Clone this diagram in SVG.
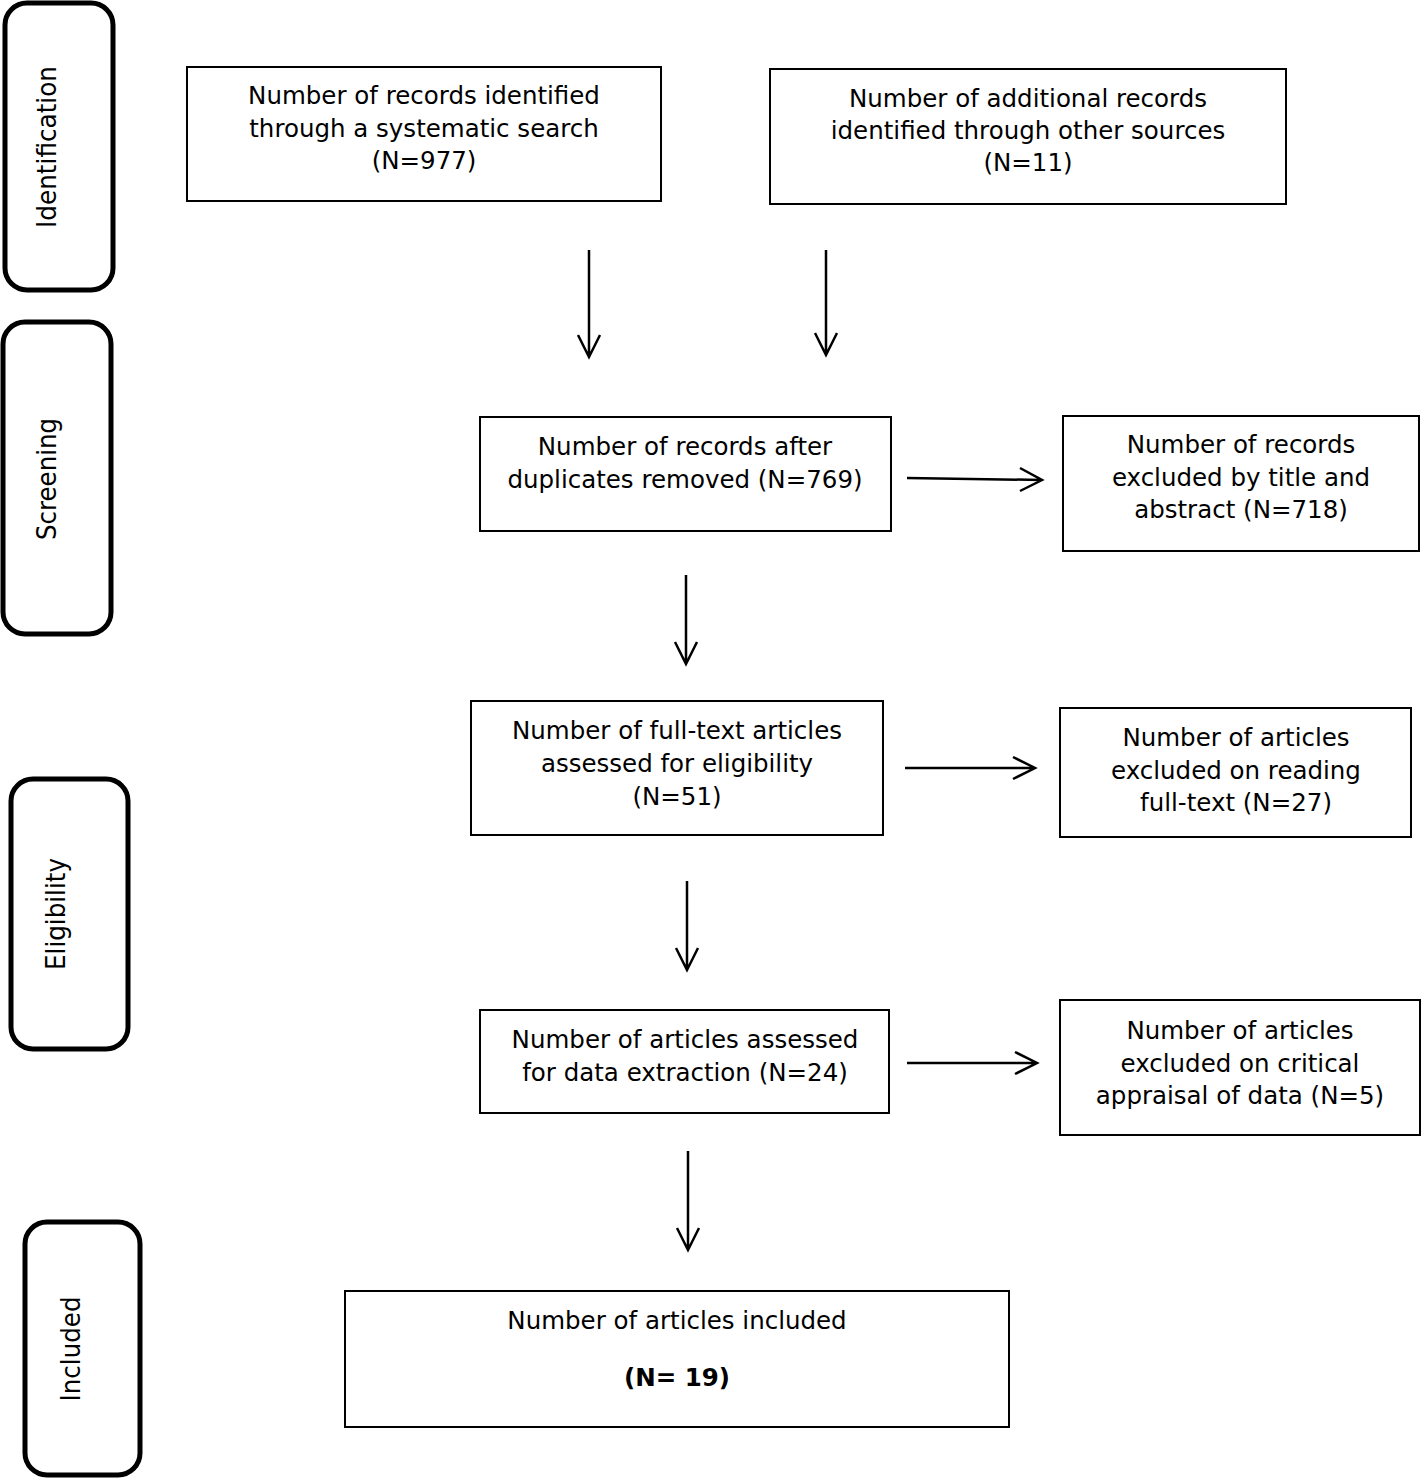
<svg xmlns="http://www.w3.org/2000/svg" width="1421" height="1478" viewBox="0 0 1421 1478">
<style>
.stage{fill:none;stroke:#000;stroke-width:5}
.box{fill:#fff;stroke:#000;stroke-width:2}
.t{font-family:"DejaVu Sans",Verdana,sans-serif;font-size:24.5px;fill:#000;text-anchor:middle}
.b{font-weight:bold}
.lab{font-family:"DejaVu Sans",Verdana,sans-serif;font-size:27px;fill:#000;text-anchor:middle}
.c{fill:none;stroke:#000;stroke-width:2.5}
</style>
<rect width="1421" height="1478" fill="#fff"/>
<g id="stage-identification"><rect class="stage" x="5" y="3" width="108" height="287" rx="22"/><text class="lab" transform="translate(56,147) rotate(-90)" textLength="162" lengthAdjust="spacingAndGlyphs">Identification</text></g>
<g id="stage-screening"><rect class="stage" x="3" y="322" width="108" height="312" rx="22"/><text class="lab" transform="translate(56,479) rotate(-90)" textLength="122" lengthAdjust="spacingAndGlyphs">Screening</text></g>
<g id="stage-eligibility"><rect class="stage" x="11" y="779" width="117" height="270" rx="22"/><text class="lab" transform="translate(65,914) rotate(-90)" textLength="112" lengthAdjust="spacingAndGlyphs">Eligibility</text></g>
<g id="stage-included"><rect class="stage" x="25" y="1222" width="115" height="253" rx="22"/><text class="lab" transform="translate(80,1349) rotate(-90)" textLength="105" lengthAdjust="spacingAndGlyphs">Included</text></g>

<g id="n-search"><rect class="box" x="187" y="67" width="474" height="134"/>
<text class="t" x="424" y="104">Number of records identified</text>
<text class="t" x="424" y="137">through a systematic search</text>
<text class="t" x="424" y="169">(N=977)</text></g>
<g id="n-other"><rect class="box" x="770" y="69" width="516" height="135"/>
<text class="t" x="1028" y="107">Number of additional records</text>
<text class="t" x="1028" y="139">identified through other sources</text>
<text class="t" x="1028" y="171">(N=11)</text></g>
<g id="n-dedup"><rect class="box" x="480" y="417" width="411" height="114"/>
<text class="t" x="685" y="455">Number of records after</text>
<text class="t" x="685" y="488">duplicates removed (N=769)</text></g>
<g id="n-excl-title"><rect class="box" x="1063" y="416" width="356" height="135"/>
<text class="t" x="1241" y="453">Number of records</text>
<text class="t" x="1241" y="486">excluded by title and</text>
<text class="t" x="1241" y="518">abstract (N=718)</text></g>
<g id="n-fulltext"><rect class="box" x="471" y="701" width="412" height="134"/>
<text class="t" x="677" y="739">Number of full-text articles</text>
<text class="t" x="677" y="772">assessed for eligibility</text>
<text class="t" x="677" y="805">(N=51)</text></g>
<g id="n-excl-full"><rect class="box" x="1060" y="708" width="351" height="129"/>
<text class="t" x="1236" y="746">Number of articles</text>
<text class="t" x="1236" y="779">excluded on reading</text>
<text class="t" x="1236" y="811">full-text (N=27)</text></g>
<g id="n-data"><rect class="box" x="480" y="1010" width="409" height="103"/>
<text class="t" x="685" y="1048">Number of articles assessed</text>
<text class="t" x="685" y="1081">for data extraction (N=24)</text></g>
<g id="n-excl-crit"><rect class="box" x="1060" y="1000" width="360" height="135"/>
<text class="t" x="1240" y="1039">Number of articles</text>
<text class="t" x="1240" y="1072">excluded on critical</text>
<text class="t" x="1240" y="1104">appraisal of data (N=5)</text></g>
<g id="n-included"><rect class="box" x="345" y="1291" width="664" height="136"/>
<text class="t" x="677" y="1329">Number of articles included</text>
<text class="t b" x="677" y="1386">(N= 19)</text></g>

<g id="connectors">
<path class="c" d="M589 250V357M578 335L589 357L600 335"/>
<path class="c" d="M826 250V355M815 333L826 355L837 333"/>
<path class="c" d="M907 478L1042 480M1020 468L1042 480L1020 491"/>
<path class="c" d="M686 575V664M675 642L686 664L697 642"/>
<path class="c" d="M905 768H1035M1013 757L1035 768L1013 779"/>
<path class="c" d="M687 881V970M676 948L687 970L698 948"/>
<path class="c" d="M907 1063H1037M1015 1052L1037 1063L1015 1074"/>
<path class="c" d="M688 1151V1250M677 1228L688 1250L699 1228"/>
</g>
</svg>
